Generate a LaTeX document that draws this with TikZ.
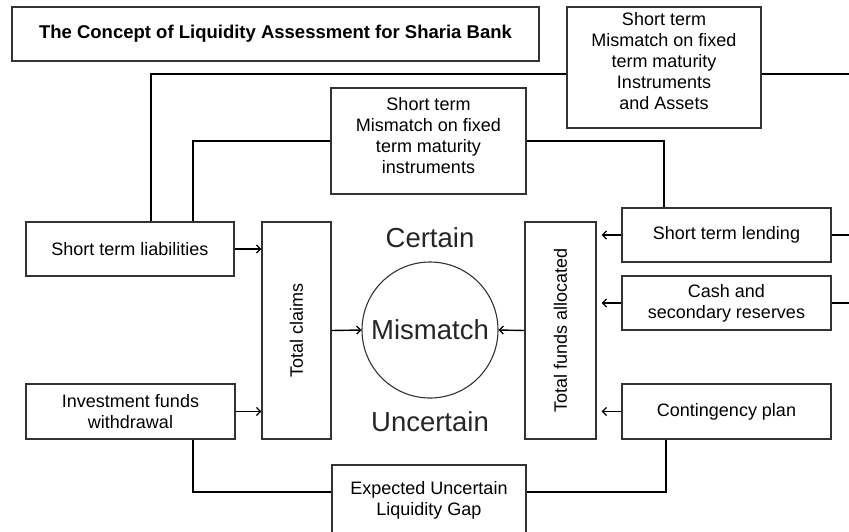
\documentclass[tikz,border=0pt]{standalone}
\usepackage{fontspec}
\setmainfont{Liberation Sans}
\usetikzlibrary{arrows.meta}
\definecolor{boxgray}{HTML}{333333}
\newcommand{\fsnorm}{\fontsize{18}{21}\selectfont}
\newcommand{\fsbig}{\fontsize{27.5}{31}\selectfont}
\newcommand{\fstitle}{\fontsize{18.5}{21}\selectfont\bfseries}
\begin{document}
\begin{tikzpicture}[x=1pt,y=-1pt,
  box/.style={draw=boxgray, line width=1.4pt, inner sep=0pt, align=center, font=\fsnorm},
  btext/.style={inner sep=0pt, align=center, font=\fsnorm},
  link/.style={draw=black, line width=1.4pt},
  feed/.style={link, -{Straight Barb[length=4pt,width=8pt,line width=1.2pt]}},
  bigtext/.style={inner sep=0pt, font=\fsbig, text=black!85},
  vtext/.style={inner sep=0pt, rotate=90, font=\fsnorm}]
\useasboundingbox (0,0) rectangle (849,531);

% title
\node[box, minimum width=527, minimum height=54, font=\fstitle] (title) at (275.5,34)
  {The Concept of Liquidity Assessment for Sharia Bank};

% mismatch boxes at the top
\node[box, minimum width=194, minimum height=121] (top) at (664,67.5) {};
\node[btext] (toptext) at (664,61)
  {Short term\\Mismatch on fixed\\term maturity\\Instruments\\and Assets};
\node[box, minimum width=195, minimum height=106] (mid) at (428.5,141) {};
\node[btext] (midtext) at (428.5,136)
  {Short term\\Mismatch on fixed\\term maturity\\instruments};

% claims side
\node[box, minimum width=208, minimum height=54] (liab) at (130,249) {Short term liabilities};
\node[box, minimum width=209, minimum height=55] (inv) at (130.5,411.5) {Investment funds\\withdrawal};
\node[box, minimum width=69, minimum height=217] (claims) at (296.5,330.5) {};
\node[vtext] (claimstext) at (claims.center) {Total claims};

% centre
\node[draw=boxgray, line width=1.1pt, circle, minimum size=136, inner sep=0pt, font=\fsbig, text=black!85] (mis) at (430,330) {Mismatch};
\node[bigtext] (cert) at (430,237.5) {Certain};
\node[bigtext] (uncert) at (430,422) {Uncertain};

% funds side
\node[box, minimum width=71, minimum height=217] (funds) at (560.5,330.5) {};
\node[vtext] (fundstext) at (funds.center) {Total funds allocated};
\node[box, minimum width=209, minimum height=54] (lend) at (726.5,235) {Short term lending};
\node[box, minimum width=209, minimum height=54] (cash) at (726.5,303) {Cash and\\secondary reserves};
\node[box, minimum width=209, minimum height=55] (cont) at (726.5,411.5) {Contingency plan};

% gap box at the bottom
\node[box, minimum width=194, minimum height=70] (gap) at (429,500) {Expected Uncertain\\Liquidity Gap};

% routing points
\coordinate (xa) at (151,74);
\coordinate (xb) at (193,141);
\coordinate (xc) at (664,141);
\coordinate (xd) at (193,492);
\coordinate (xe) at (666,492);
\coordinate (er1) at (849,74);
\coordinate (er2) at (849,235);
\coordinate (er3) at (849,303);

% upper links
\draw[link] (liab.north -| xa) -- (xa) -- (top.west |- xa);
\draw[link] (top.east |- er1) -- (er1);
\draw[link] (liab.north -| xb) -- (xb) -- (mid.west);
\draw[link] (mid.east) -- (xc) -- (lend.north -| xc);
\draw[link] (lend.east) -- (er2);
\draw[link] (cash.east) -- (er3);

% flows into the totals
\draw[feed] (liab.east) -- (liab.east -| claims.west);
\draw[feed] (inv.east) -- (inv.east -| claims.west);
\draw[feed] (claims.east) -- (mis.west);
\draw[feed] (funds.west) -- (mis.east);
\draw[feed, shorten >=5pt] (lend.west) -- (lend.west -| funds.east);
\draw[feed, shorten >=5pt] (cash.west) -- (cash.west -| funds.east);
\draw[feed, shorten >=5pt] (cont.west) -- (cont.west -| funds.east);

% lower links
\draw[link] (inv.south -| xd) -- (xd) -- (gap.west |- xd);
\draw[link] (gap.east |- xe) -- (xe) -- (cont.south -| xe);
\end{tikzpicture}
\end{document}
